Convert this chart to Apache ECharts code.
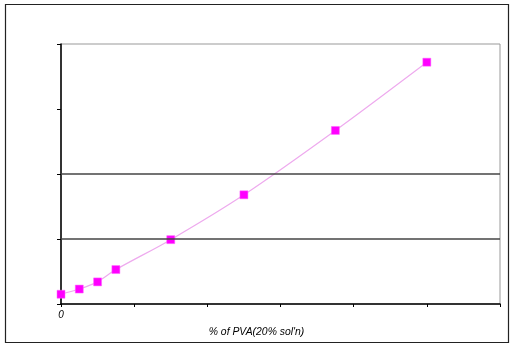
<!DOCTYPE html>
<html>
<head>
<meta charset="utf-8">
<script src="https://cdn.jsdelivr.net/npm/echarts@6/dist/echarts.min.js"></script>
<style>
html,body{margin:0;padding:0;background:#fff;}
#c{width:516px;height:357px;}
</style>
</head>
<body>
<div id="c"></div>
<script>
var pvaPercent = [0, 0.25, 0.5, 0.75, 1.5, 2.5, 3.75, 5];
var responseValues = [0.15, 0.23, 0.34, 0.53, 0.99, 1.68, 2.67, 3.72];
var gridLineValues = [1, 2];
var xAxisTitle = "% of PVA(20% sol'n)";

var points = pvaPercent.map(function (x, i) { return [x, responseValues[i]]; });

var chart = echarts.init(document.getElementById('c'), null, {renderer: 'canvas'});
chart.setOption({
  animation: false,
  backgroundColor: '#fff',
  graphic: [{
    type: 'rect',
    shape: {x: 5.5, y: 4.5, width: 503, height: 338},
    style: {fill: 'none', stroke: '#222', lineWidth: 1.2},
    silent: true
  }],
  grid: {
    left: 61, right: 16, top: 44, bottom: 53,
    show: true, borderColor: '#999', borderWidth: 1, backgroundColor: 'transparent'
  },
  xAxis: {
    type: 'value', min: 0, max: 6, interval: 1,
    name: xAxisTitle, nameLocation: 'middle', nameGap: 23,
    nameTextStyle: {fontFamily: 'Liberation Sans', fontStyle: 'italic', fontSize: 10.4, color: '#000', padding: [0, 48, 0, 0]},
    axisLine: {show: true, lineStyle: {color: '#000', width: 1.5}},
    axisTick: {show: true, length: 3, lineStyle: {color: '#000'}},
    axisLabel: {
      show: true, margin: 6,
      fontFamily: 'Liberation Sans', fontStyle: 'italic', fontSize: 10, color: '#000',
      formatter: function (v) { return v === 0 ? '0' : ''; }
    },
    splitLine: {show: false}
  },
  yAxis: {
    type: 'value', min: 0, max: 4, interval: 1,
    axisLine: {show: true, lineStyle: {color: '#000', width: 1.5}},
    axisTick: {show: true, length: 4, lineStyle: {color: '#000'}},
    axisLabel: {show: false},
    splitLine: {show: false}
  },
  series: [{
    type: 'line',
    data: points,
    smooth: 0.3,
    symbol: 'rect',
    symbolSize: 8,
    lineStyle: {color: '#eeaaee', width: 1.2},
    itemStyle: {color: '#ff00ff', borderColor: '#ff66ff', borderWidth: 0.5},
    markLine: {
      silent: true,
      symbol: ['none', 'none'],
      label: {show: false},
      lineStyle: {color: '#444', width: 1.5, type: 'solid'},
      data: gridLineValues.map(function (v) { return {yAxis: v}; })
    },
    z: 3
  }]
});
</script>
</body>
</html>
